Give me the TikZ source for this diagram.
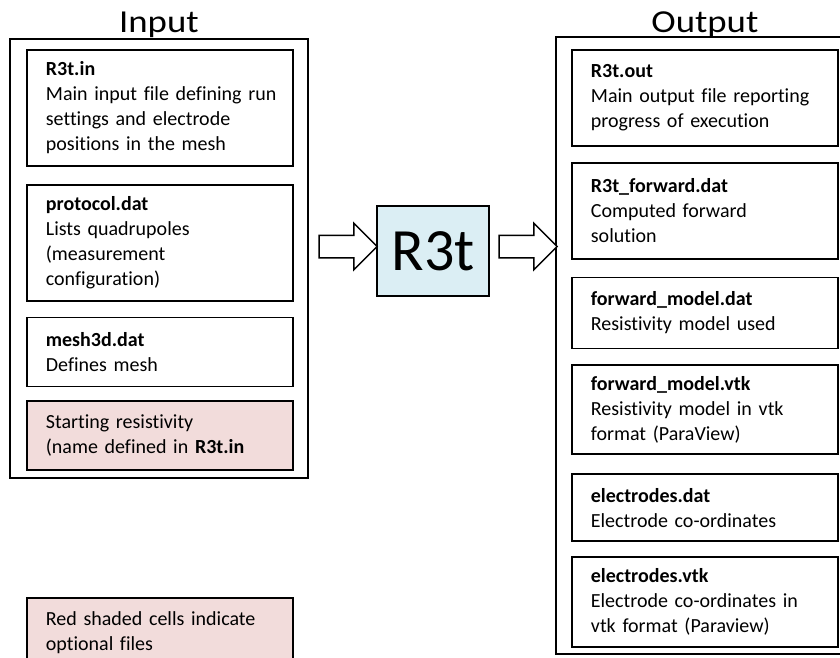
\documentclass[tikz,border=0pt]{standalone}
\usepackage{fontspec}
\setmainfont{Carlito}[Ligatures=NoCommon]
\usetikzlibrary{positioning,shapes.arrows,calc}
\definecolor{optred}{HTML}{F2DCDB}
\definecolor{progblue}{HTML}{DBEEF4}
\begin{document}
\begin{tikzpicture}[x=1pt,y=-1pt,line width=1.8pt,
    frame node/.style={draw,rectangle,minimum width=298pt,anchor=north west},
    title node/.style={font=\fontsize{32}{38}\selectfont,inner sep=0pt},
    file node/.style={draw,rectangle,text width=250pt,inner xsep=8pt,inner ysep=0pt,
        font=\fontsize{20}{25}\selectfont,
        execute at begin node={\raggedright\leftskip=11pt\relax}},
    opt node/.style={file node,fill=optred},
    prog node/.style={draw,fill=progblue,minimum width=112pt,minimum height=90pt,
        inner sep=0pt,font=\fontsize{60}{72}\selectfont},
    arrow node/.style={draw,fill=white,single arrow,minimum height=58pt,
        single arrow head extend=12pt,inner xsep=0pt,inner ysep=10.5pt,line width=1.5pt}]
    \path[use as bounding box,clip] (0,0) rectangle (840,657);
    % input files
    \node[frame node,minimum height=439pt] (inbox) at (9,38) {};
    \node[title node,above=-1pt of inbox] (intitle) {\scalebox{1.15}[1]{Input}};
    \node[file node,minimum height=116pt,anchor=north west] (r3tin) at (26,49)
        {\textbf{R3t.in}\\Main input file defining run\\settings and electrode\\positions in the mesh};
    \node[file node,minimum height=116pt,below=17pt of r3tin] (protocol)
        {\textbf{protocol.dat}\\Lists quadrupoles\\(measurement\\configuration)};
    \node[file node,minimum height=69pt,below=15pt of protocol] (mesh)
        {\textbf{mesh3d.dat}\\Defines mesh};
    \node[opt node,minimum height=69pt,below=13pt of mesh] (startres)
        {Starting resistivity\\(name defined in \textbf{R3t.in}};
    \node[opt node,minimum height=69pt,anchor=north west] (legend) at (26,597)
        {Red shaded cells indicate\\optional files};
    % output files
    \node[frame node,minimum height=617pt] (outbox) at (555,36) {};
    \node[title node,above=-3pt of outbox] (outtitle) {\scalebox{1.15}[1]{Output}};
    \node[file node,minimum height=96pt,anchor=north west] (r3tout) at (571,49)
        {\textbf{R3t.out}\\Main output file reporting\\progress of execution};
    \node[file node,minimum height=96pt,below=15pt of r3tout] (fwddat)
        {\textbf{R3t\_forward.dat}\\Computed forward\\solution};
    \node[file node,minimum height=71pt,below=17pt of fwddat] (fmdat)
        {\textbf{forward\_model.dat}\\Resistivity model used};
    \node[file node,minimum height=89pt,below=15pt of fmdat] (fmvtk)
        {\textbf{forward\_model.vtk}\\Resistivity model in vtk\\format (ParaView)};
    \node[file node,minimum height=67pt,below=18pt of fmvtk] (elecdat)
        {\textbf{electrodes.dat}\\Electrode co-ordinates};
    \node[file node,minimum height=90pt,below=14pt of elecdat] (elecvtk)
        {\textbf{electrodes.vtk}\\Electrode co-ordinates in\\vtk format (Paraview)};
    % program
    \node[prog node] (r3t) at (433,251) {R3t};
    \node[arrow node,yshift=4.5pt] (inarrow) at ($(inbox.east |- r3t.west)!0.5!(r3t.west)$) {};
    \node[arrow node,yshift=4.5pt] (outarrow) at ($(r3t.east)!0.5!(outbox.west |- r3t.east)$) {};
\end{tikzpicture}
\end{document}
